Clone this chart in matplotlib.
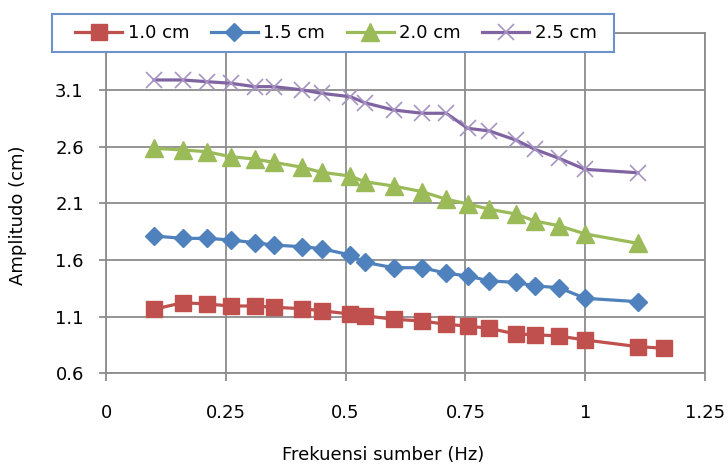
import matplotlib
matplotlib.use("Agg")
import matplotlib.pyplot as plt
from matplotlib.patches import Rectangle

freq = [0.1, 0.16, 0.21, 0.26, 0.31, 0.35, 0.41, 0.45, 0.51, 0.54,
        0.6, 0.66, 0.71, 0.755, 0.8, 0.855, 0.895, 0.945, 1.0, 1.11]
freq_red = freq + [1.165]

amp_10 = [1.165, 1.223, 1.212, 1.194, 1.194, 1.183, 1.170, 1.152, 1.123, 1.108,
          1.077, 1.062, 1.032, 1.017, 0.997, 0.947, 0.941, 0.929, 0.894, 0.835, 0.821]
amp_15 = [1.812, 1.791, 1.791, 1.777, 1.753, 1.732, 1.717, 1.700, 1.644, 1.580,
          1.532, 1.532, 1.483, 1.459, 1.415, 1.403, 1.371, 1.356, 1.262, 1.232]
amp_20 = [2.586, 2.571, 2.556, 2.512, 2.491, 2.462, 2.418, 2.374, 2.341, 2.291,
          2.253, 2.203, 2.136, 2.095, 2.048, 2.006, 1.944, 1.903, 1.830, 1.747]
amp_25 = [3.189, 3.189, 3.174, 3.160, 3.130, 3.130, 3.101, 3.071, 3.041, 2.988,
          2.924, 2.895, 2.895, 2.762, 2.739, 2.659, 2.577, 2.498, 2.400, 2.370]

labels = ["1.0 cm", "1.5 cm", "2.0 cm", "2.5 cm"]
xticks = [0, 0.25, 0.5, 0.75, 1, 1.25]
xticklabels = ["0", "0.25", "0.5", "0.75", "1", "1.25"]
yticks = [0.6, 1.1, 1.6, 2.1, 2.6, 3.1, 3.6]

grid_c = "#8C8C8C"
fig = plt.figure(figsize=(7.28, 4.69), dpi=100)
ax = fig.add_axes([106/728, 1-373.3/469, (705-106)/728, (373.3-33.4)/469])

ax.plot(freq_red, amp_10, color="#C0504D", lw=2.3, marker="s", ms=12,
        mec="#C0504D", mfc="#C0504D", label=labels[0], zorder=3)
ax.plot(freq, amp_15, color="#4F81BD", lw=2.3, marker="D", ms=9.5,
        mec="#4F81BD", mfc="#4F81BD", label=labels[1], zorder=3)
ax.plot(freq, amp_20, color="#9BBB59", lw=2.3, marker="^", ms=12.5,
        mec="#9BBB59", mfc="#9BBB59", label=labels[2], zorder=3)
ax.plot(freq, amp_25, color="#8064A2", lw=2.3, marker="x", ms=12,
        mec="#A894C4", mew=1.2, label=labels[3], zorder=3)

ax.set_xlim(0, 1.25)
ax.set_ylim(0.6, 3.6)
ax.set_xticks(xticks)
ax.set_xticklabels(xticklabels)
ax.set_yticks(yticks)
ax.set_yticklabels([f"{v:.1f}" for v in yticks])
ax.grid(True, color=grid_c, lw=1.3, zorder=0)
ax.set_axisbelow(True)
for s in ax.spines.values():
    s.set_color(grid_c)
    s.set_linewidth(1.3)
ax.tick_params(axis="x", length=6, width=1.3, color=grid_c, pad=16, labelsize=13)
ax.tick_params(axis="y", length=5, width=1.3, color=grid_c, pad=11, labelsize=13)
ax.set_xlabel("Frekuensi sumber (Hz)", fontsize=13)
ax.set_ylabel("Amplitudo (cm)", fontsize=13)
ax.xaxis.set_label_coords((383-106)/599, (373.3-446)/340)
ax.yaxis.set_label_coords((27-106)/599, (373.3-215)/340)

# legend box (white, covers the top-left of the plot area like the reference)
box = Rectangle((52/728, 1-52/469), (614-52)/728, 38/469, transform=fig.transFigure,
                facecolor="white", edgecolor="#6A93C8", linewidth=1.5, zorder=4)
fig.patches.append(box)

leg = fig.legend(loc="center", ncol=4, bbox_to_anchor=(336/728, 1-33/469),
                 fontsize=13, frameon=False,
                 handlelength=2.6, handletextpad=0.3, columnspacing=1.2,
                 borderaxespad=0, borderpad=0.55)
leg.set_zorder(5)

fig.savefig("out.png", dpi=100)
